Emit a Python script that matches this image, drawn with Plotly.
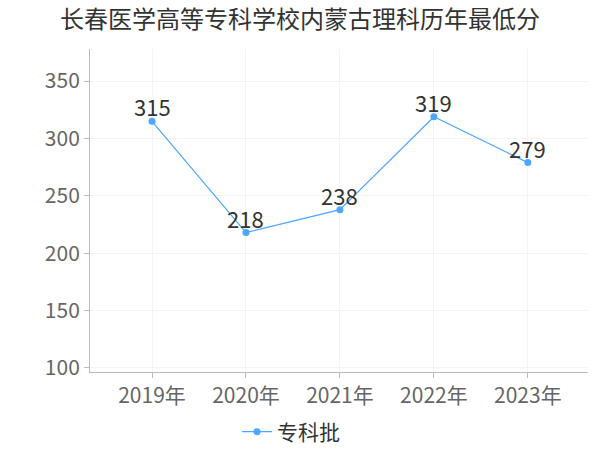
import plotly.graph_objects as go

categories = ["2019年", "2020年", "2021年", "2022年", "2023年"]
values = [315, 218, 238, 319, 279]
series_name = "专科批"
title = "长春医学高等专科学校内蒙古理科历年最低分"
y_ticks = [100, 150, 200, 250, 300, 350]

font = "Noto Sans CJK SC"
color = "#4da6ff"

fig = go.Figure()
fig.add_trace(go.Scatter(
    x=categories, y=values, name=series_name,
    mode="lines+markers",
    line=dict(color=color, width=1.2),
    marker=dict(color=color, size=7),
))
for c, v in zip(categories, values):
    fig.add_annotation(x=c, y=v, text=str(v), showarrow=False, yshift=15,
                       font=dict(size=22, color="#333333", family=font))

fig.update_layout(
    width=600, height=450,
    margin=dict(l=90, r=12, t=49, b=78),
    paper_bgcolor="white", plot_bgcolor="white",
    font=dict(family=font, color="#666666"),
    title=dict(text=title, x=0.5, xanchor="center", y=0.957, yanchor="middle",
               font=dict(size=24, color="#333333", family=font)),
    showlegend=True,
    legend=dict(orientation="h", xref="container", x=0.485, xanchor="center",
                yref="container", y=0.04, yanchor="middle",
                font=dict(size=21, color="#333333", family=font)),
    xaxis=dict(range=[-0.66, 4.64], showgrid=True, gridcolor="#f3f3f3",
               showline=True, linecolor="#bbbbbb", ticks="outside", ticklen=5,
               tickcolor="#bbbbbb", tickfont=dict(size=21, color="#666666"),
               zeroline=False, automargin=False),
    yaxis=dict(range=[96.5, 378], tickvals=y_ticks, showgrid=True, gridcolor="#f3f3f3",
               showline=True, linecolor="#bbbbbb", ticks="outside", ticklen=5,
               tickcolor="#bbbbbb", tickfont=dict(size=21, color="#666666"),
               zeroline=False, automargin=False),
)

fig.write_html("out.html", config={"displayModeBar": False},
               post_script="document.body.style.margin='0';")
